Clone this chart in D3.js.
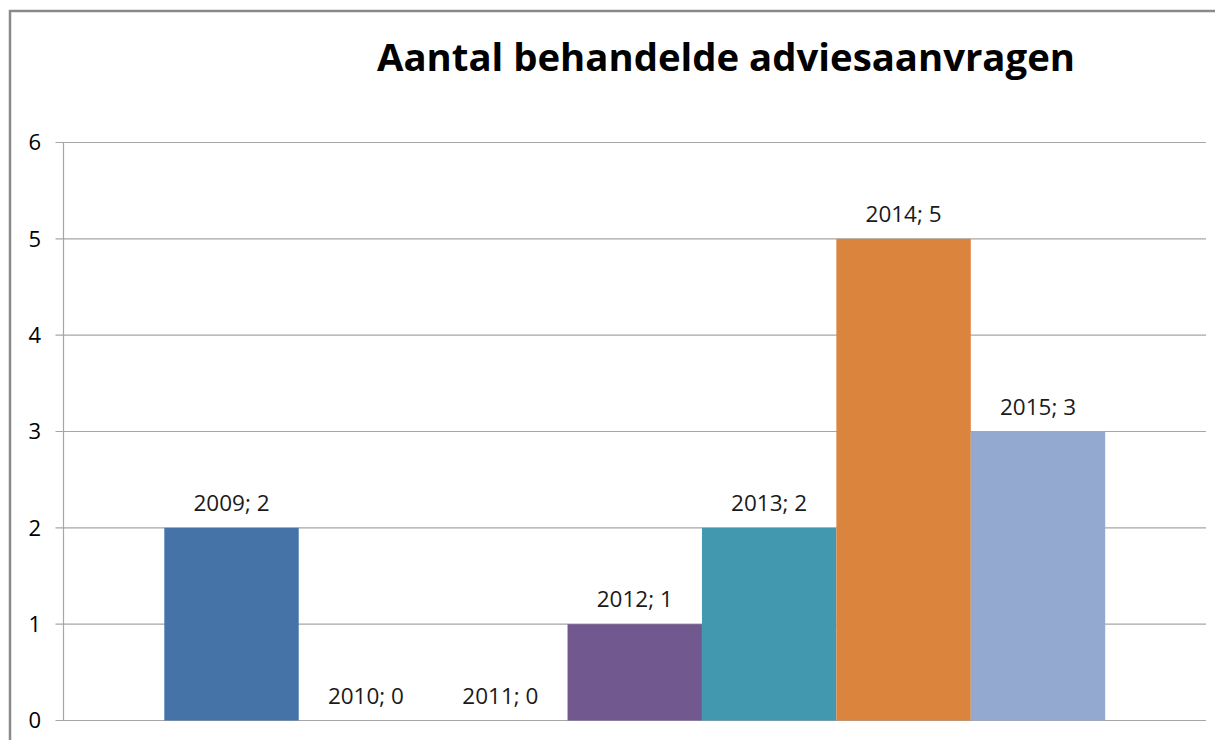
<!DOCTYPE html>
<html>
<head>
<meta charset="utf-8">
<script src="https://cdn.jsdelivr.net/npm/d3@7"></script>
<style>
  html, body { margin: 0; padding: 0; background: #fff; }
  svg { display: block; }
  text { font-family: "Open Sans", "Liberation Sans", sans-serif; }
</style>
</head>
<body>
<svg id="chart" width="1215" height="740"></svg>
<script>
const title = "Aantal behandelde adviesaanvragen";
const years = ["2009", "2010", "2011", "2012", "2013", "2014", "2015"];
const values = [2, 0, 0, 1, 2, 5, 3];
const colors = ["#4673A7", "#AA4643", "#89A54E", "#71588F", "#4198AF", "#DB843D", "#93A9CF"];
const yTicks = [0, 1, 2, 3, 4, 5, 6];

const svg = d3.select("#chart");
const W = 1215, H = 740;
const plot = { left: 63.5, right: 1206, top: 142.5, bottom: 720.5 };

// outer chart border (extends beyond right/bottom edges)
svg.append("rect")
  .attr("x", 10).attr("y", 11)
  .attr("width", W + 20).attr("height", H + 20)
  .attr("fill", "#fff")
  .attr("stroke", "#8a8a8a").attr("stroke-width", 2.5);

const y = d3.scaleLinear().domain([0, 6]).range([plot.bottom, plot.top]);
const x0 = d3.scaleBand().domain(["cat"]).range([plot.left, plot.right]);
const x1 = d3.scaleBand().domain(years).range([0, x0.bandwidth()])
  .paddingInner(0).paddingOuter(0.75);

// gridlines
svg.append("g").selectAll("line").data(yTicks).join("line")
  .attr("x1", plot.left - 8).attr("x2", plot.right)
  .attr("y1", d => y(d)).attr("y2", d => y(d))
  .attr("stroke", "#a6a6a6").attr("stroke-width", 1.2);

// y axis line
svg.append("line")
  .attr("x1", plot.left).attr("x2", plot.left)
  .attr("y1", plot.top).attr("y2", plot.bottom)
  .attr("stroke", "#a6a6a6").attr("stroke-width", 1.2);

// y tick labels
svg.append("g").selectAll("text").data(yTicks).join("text")
  .attr("x", 41).attr("y", d => y(d))
  .attr("dy", "0.36em")
  .attr("text-anchor", "end")
  .attr("font-size", 22)
  .attr("fill", "#000")
  .text(d => d);

// bars
const xb = d => x0("cat") + x1(d);
svg.append("g").selectAll("rect").data(years).join("rect")
  .attr("x", d => xb(d))
  .attr("width", x1.bandwidth())
  .attr("y", (d, i) => y(values[i]))
  .attr("height", (d, i) => y(0) - y(values[i]))
  .attr("fill", (d, i) => colors[i]);

// data labels
svg.append("g").selectAll("text").data(years).join("text")
  .attr("x", d => xb(d) + x1.bandwidth() / 2)
  .attr("y", (d, i) => y(values[i]) - 17)
  .attr("text-anchor", "middle")
  .attr("font-size", 22.5)
  .attr("fill", "#1a1a1a")
  .text((d, i) => d + "; " + values[i]);

// title
svg.append("text")
  .attr("x", 726).attr("y", 71)
  .attr("text-anchor", "middle")
  .attr("font-size", 37)
  .attr("font-weight", "bold")
  .attr("fill", "#000")
  .attr("textLength", 698)
  .attr("lengthAdjust", "spacingAndGlyphs")
  .text(title);
</script>
</body>
</html>
